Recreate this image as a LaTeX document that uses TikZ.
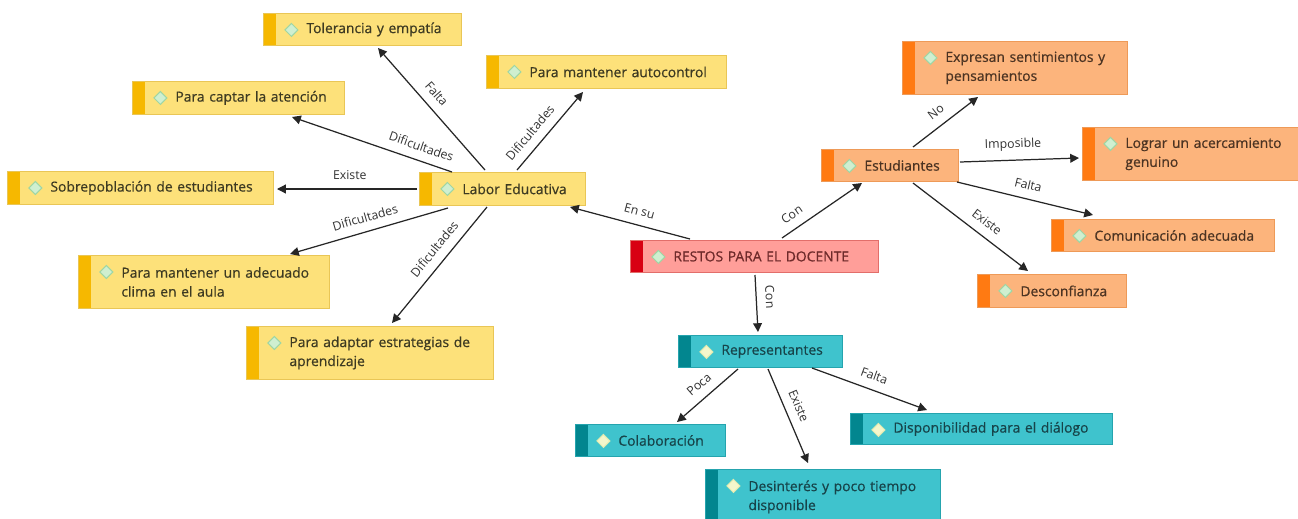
\documentclass[tikz,border=0pt]{standalone}
\usepackage{fontspec}
\setmainfont{Open Sans}
\newfontfamily\boxfont[FakeBold=0.6]{Open Sans}
\usetikzlibrary{arrows.meta}
\definecolor{yfill}{HTML}{FDE17A}
\definecolor{yline}{HTML}{E9C656}
\definecolor{yacc}{HTML}{F6B800}
\definecolor{ytext}{HTML}{3D3A22}
\definecolor{ofill}{HTML}{FCB47C}
\definecolor{oline}{HTML}{EE9A58}
\definecolor{oacc}{HTML}{FF7A12}
\definecolor{otext}{HTML}{4B3322}
\definecolor{rfill}{HTML}{FF9E99}
\definecolor{rline}{HTML}{E26E6A}
\definecolor{racc}{HTML}{D80012}
\definecolor{rtext}{HTML}{6E2A2A}
\definecolor{tfill}{HTML}{3FC3CD}
\definecolor{tline}{HTML}{25A4AE}
\definecolor{tacc}{HTML}{02868F}
\definecolor{ttext}{HTML}{17444A}
\definecolor{dfill}{HTML}{CFEFD0}
\definecolor{dline}{HTML}{9ED6A4}
\definecolor{dtfill}{HTML}{F4F7CC}
\definecolor{dtline}{HTML}{E4EBB0}
\definecolor{lineC}{HTML}{262626}
\definecolor{lblC}{HTML}{333333}
\tikzset{
  bx/.style n args={6}{rectangle, anchor=north west, inner xsep=0pt, inner ysep=0pt,
    align=left, font=\boxfont\fontsize{7.9}{10.8}\selectfont, text=#4, fill=#1, draw=#2,
    line width=0.5pt,
    execute at begin node={\leftskip=0.86cm\relax},
    path picture={
      \fill[#3] (path picture bounding box.north west) rectangle ([xshift=0.25cm]path picture bounding box.south west);
      \filldraw[fill=#5, draw=#6, line width=0.6pt] ([xshift=0.56cm,yshift=-0.33cm]path picture bounding box.north west)
        +(0.13cm,0cm) -- +(0cm,0.13cm) -- +(-0.13cm,0cm) -- +(0cm,-0.13cm) -- cycle;}},
  ybox/.style={bx={yfill}{yline}{yacc}{ytext}{dfill}{dline}},
  obox/.style={bx={ofill}{oline}{oacc}{otext}{dfill}{dline}},
  rbox/.style={bx={rfill}{rline}{racc}{rtext}{dfill}{dline}},
  tbox/.style={bx={tfill}{tline}{tacc}{ttext}{dtfill}{dtline}},
  wh/.style 2 args={text width=#1*0.02cm, minimum height=#2*0.02cm},
  arr/.style={draw=lineC, line width=0.7pt, -{Triangle[length=5pt,width=5pt]}},
  lbl/.style={font=\fontsize{7}{8}\selectfont, text=lblC, sloped, above=4pt, inner sep=1pt}
}
\begin{document}
\begin{tikzpicture}[x=0.02cm, y=-0.02cm]
\fill[white] (0,0) rectangle (1298,518);
\useasboundingbox (0,0) rectangle (1298,518);

% yellow
\node[ybox, wh={198}{32}] (tol) at (263,13) {Tolerancia y empatía};
\node[ybox, wh={240}{33}] (auto) at (486,55) {Para mantener autocontrol};
\node[ybox, wh={212}{33}] (capt) at (132,81) {Para captar la atención};
\node[ybox, wh={266}{33}] (sobre) at (7,171) {Sobrepoblación de estudiantes};
\node[ybox, wh={166}{33}] (lab) at (419,172) {Labor Educativa};
\node[ybox, wh={251}{53}] (clima) at (78,255) {Para mantener un adecuado\\clima en el aula};
\node[ybox, wh={247}{53}] (estr) at (246,326) {Para adaptar estrategias de\\aprendizaje};
% red
\node[rbox, wh={248}{32}] (rest) at (630,240) {RESTOS PARA EL DOCENTE};
% orange
\node[obox, wh={137}{32}] (est) at (821,149) {Estudiantes};
\node[obox, wh={225}{53}] (expr) at (902,41) {Expresan sentimientos y\\pensamientos};
\node[obox, wh={216}{53}] (logr) at (1082,127) {Lograr un acercamiento\\genuino};
\node[obox, wh={223}{32}] (com) at (1051,219) {Comunicación adecuada};
\node[obox, wh={149}{33}] (desc) at (977,274) {Desconfianza};
% teal
\node[tbox, wh={164}{32}] (rep) at (678,335) {Representantes};
\node[tbox, wh={150}{32}] (cola) at (575,424) {Colaboración};
\node[tbox, wh={262}{31}] (disp) at (850,413) {Disponibilidad para el diálogo};
\node[tbox, wh={235}{55}] (desi) at (705,469) {Desinterés y poco tiempo\\disponible};

% connectors
\draw[arr] ([shift={(60,-1)}]rest.north west) -- node[lbl,pos=.45]{En su} ([shift={(151,35)}]lab.north west);
\draw[arr] ([shift={(152,-2)}]rest.north west) -- node[lbl,pos=.22]{Con} ([shift={(41,34)}]est.north west);
\draw[arr] ([shift={(125,35)}]rest.north west) -- node[lbl,pos=.4]{Con} ([shift={(80,-3)}]rep.north west);

\draw[arr] ([shift={(66,-2)}]lab.north west) -- node[lbl,pos=.55]{Falta} ([shift={(115,35)}]tol.north west);
\draw[arr] ([shift={(33,0)}]lab.north west) -- node[lbl,pos=.22]{Dificultades} ([shift={(160,36)}]capt.north west);
\draw[arr] ([shift={(98,-2)}]lab.north west) -- node[lbl,pos=.36]{Dificultades} ([shift={(97,37)}]auto.north west);
\draw[arr] ([shift={(-2,17)}]lab.north west) -- node[lbl,pos=.48]{Existe} ([shift={(270,18)}]sobre.north west);
\draw[arr] ([shift={(29,36)}]lab.north west) -- node[lbl,pos=.5]{Dificultades} ([shift={(212,-1)}]clima.north west);
\draw[arr] ([shift={(68,35)}]lab.north west) -- node[lbl,pos=.44]{Dificultades} ([shift={(146,-3)}]estr.north west);

\draw[arr] ([shift={(92,-2)}]est.north west) -- node[lbl,pos=.48]{No} ([shift={(76,56)}]expr.north west);
\draw[arr] ([shift={(139,13)}]est.north west) -- node[lbl,pos=.45]{Imposible} ([shift={(-3,31)}]logr.north west);
\draw[arr] ([shift={(136,33)}]est.north west) -- node[lbl,pos=.5]{Falta} ([shift={(42,-4)}]com.north west);
\draw[arr] ([shift={(92,34)}]est.north west) -- node[lbl,pos=.57]{Existe} ([shift={(51,-3)}]desc.north west);

\draw[arr] ([shift={(60,34)}]rep.north west) -- node[lbl,pos=.49]{Poca} ([shift={(102,-2)}]cola.north west);
\draw[arr] ([shift={(90,34)}]rep.north west) -- node[lbl,pos=.45]{Existe} ([shift={(103,-6)}]desi.north west);
\draw[arr] ([shift={(134,33)}]rep.north west) -- node[lbl,pos=.5]{Falta} ([shift={(77,-3)}]disp.north west);
\end{tikzpicture}
\end{document}
